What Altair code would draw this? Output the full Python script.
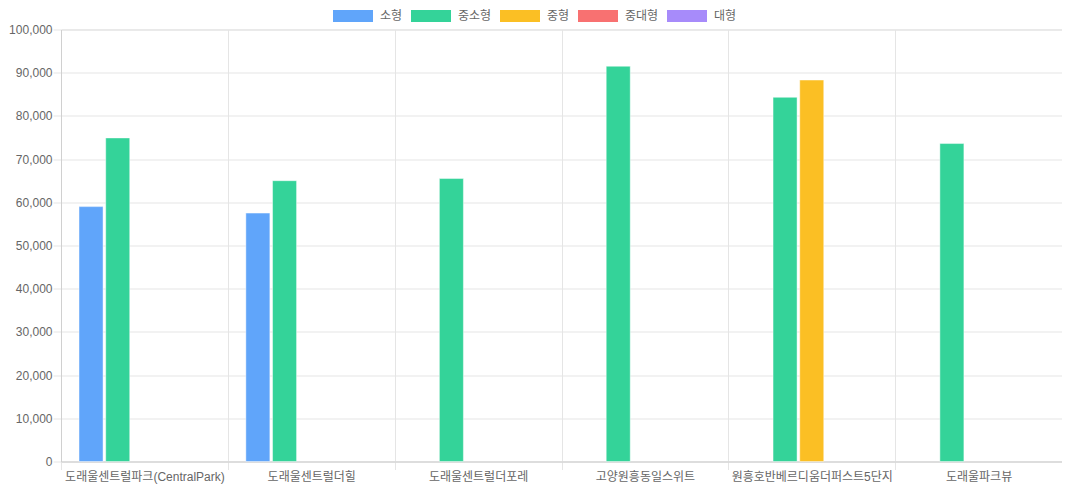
import altair as alt
import pandas as pd

categories = [
    "도래울센트럴파크(CentralPark)",
    "도래울센트럴더힐",
    "도래울센트럴더포레",
    "고양원흥동일스위트",
    "원흥호반베르디움더퍼스트5단지",
    "도래울파크뷰",
]
series = ["소형", "중소형", "중형", "중대형", "대형"]
colors = ["#60a5fa", "#34d399", "#fbbf24", "#f87171", "#a78bfa"]

small = [59000, 57500, None, None, None, None]
small_mid = [74900, 65000, 65500, 91500, 84300, 73600]
mid = [None, None, None, None, 88300, None]
mid_large = [None, None, None, None, None, None]
large = [None, None, None, None, None, None]

y_ticks = [0, 10000, 20000, 30000, 40000, 50000, 60000, 70000, 80000, 90000, 100000]

rows = []
for name, vals in zip(series, [small, small_mid, mid, mid_large, large]):
    for cat, v in zip(categories, vals):
        if v is not None:
            rows.append({"category": cat, "series": name, "value": v})
df = pd.DataFrame(rows)

FONT = "Helvetica Neue, Helvetica, Arial, Noto Sans CJK KR, sans-serif"

chart = (
    alt.Chart(df)
    .mark_bar(stroke="white", strokeOpacity=0.45, strokeWidth=1)
    .encode(
        x=alt.X(
            "category:N",
            sort=categories,
            scale=alt.Scale(domain=categories, paddingInner=0, paddingOuter=0),
            axis=alt.Axis(
                title=None,
                labelAngle=0,
                tickBand="extent",
                grid=True,
                gridColor="#e5e5e5",
                tickColor="#e5e5e5",
                tickSize=8,
                domainColor="#d0d0d0",
                labelPadding=2,
                labelFontSize=12,
                labelColor="#666666",
                labelFont=FONT,
                labelLimit=200,
            ),
        ),
        xOffset=alt.XOffset(
            "series:N",
            sort=series,
            scale=alt.Scale(domain=series, paddingInner=0.1, paddingOuter=0.675),
        ),
        y=alt.Y(
            "value:Q",
            scale=alt.Scale(domain=[0, 100000], nice=False),
            axis=alt.Axis(
                title=None,
                values=y_ticks,
                format=",d",
                grid=True,
                gridColor="#e5e5e5",
                tickColor="#e5e5e5",
                tickSize=8,
                domainColor="#d0d0d0",
                labelPadding=1,
                labelFontSize=12,
                labelColor="#666666",
                labelFont=FONT,
            ),
        ),
        color=alt.Color(
            "series:N",
            scale=alt.Scale(domain=series, range=colors),
            legend=alt.Legend(
                title=None,
                orient="none",
                direction="horizontal",
                legendX=272,
                legendY=-33.5,
                symbolType="M-1,-0.3H1V0.3H-1Z",
                symbolSize=1600,
                symbolStrokeWidth=0,
                symbolOpacity=1,
                labelOffset=7,
                columnPadding=8,
                labelFontSize=12,
                labelColor="#666666",
                labelFont=FONT,
                padding=0,
            ),
        ),
    )
    .properties(
        width=1001,
        height=432,
        padding={"left": 53, "top": 21.5, "right": 0, "bottom": 24.5},
        autosize=alt.AutoSizeParams(type="none"),
    )
    .configure_view(strokeWidth=0)
    .configure(font=FONT)
)

chart.save("out.html", embed_options={"renderer": "svg", "actions": False})
